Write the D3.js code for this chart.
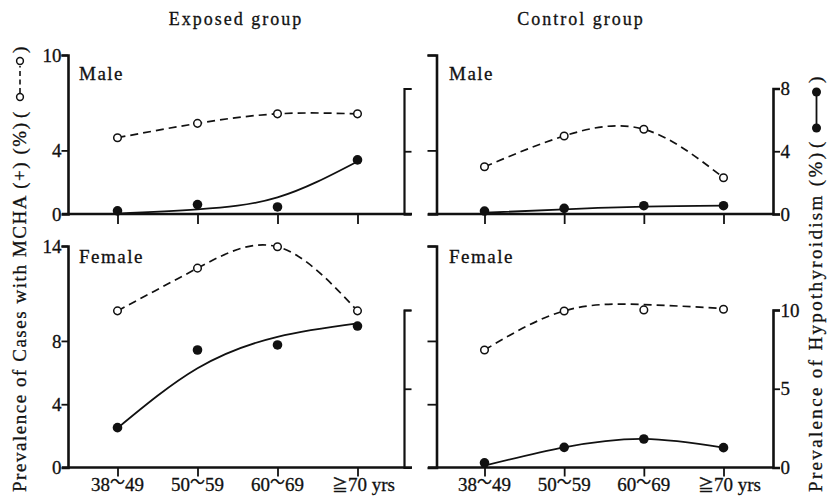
<!DOCTYPE html>
<html><head><meta charset="utf-8">
<script src="https://cdn.jsdelivr.net/npm/d3@7"></script>
<style>
body{margin:0;background:#fff}
text{font-family:"Liberation Serif","Tinos","Times New Roman","DejaVu Serif",serif;fill:#111;stroke:#111;stroke-width:0.3px}
.cjk{font-family:"Noto Sans CJK JP","Noto Sans CJK SC",sans-serif}
</style></head>
<body><svg id="c" width="827" height="497"></svg>
<script>
// ---------------- data ----------------
const ageGroups = ["38～49", "50～59", "60～69", "≧70 yrs"];
const groups = ["Exposed group", "Control group"];
const sexes = ["Male", "Female"];

const maleMchaTicks = [0, 4, 10];
const femaleMchaTicks = [0, 4, 8, 14];
const maleHypoTicks = [0, 4, 8];
const femaleHypoTicks = [0, 5, 10];

// Exposed group, male
const expMaleMcha = [4.8, 5.7, 6.3, 6.3];
const expMaleMchaFit = [4.8, 5.7, 6.3, 6.3];
const expMaleHypo = [0.2, 0.6, 0.45, 3.45];
const expMaleHypoFit = [0.03, 0.3, 1.06, 3.35];
// Control group, male
const ctlMaleMcha = [2.97, 4.91, 5.33, 2.28];
const ctlMaleMchaFit = [2.97, 4.91, 5.33, 2.28];
const ctlMaleHypo = [0.19, 0.36, 0.53, 0.53];
const ctlMaleHypoFit = [0.08, 0.3, 0.47, 0.53];
// Exposed group, female
const expFemMcha = [9.9, 12.6, 13.95, 9.9];
const expFemMchaFit = [9.9, 12.6, 13.95, 9.9];
const expFemHypo = [2.53, 7.46, 7.78, 8.98];
const expFemHypoFit = [2.5, 6.3, 8.3, 9.15];
// Control group, female
const ctlFemMcha = [7.43, 9.89, 9.96, 10.0];
const ctlFemMchaFit = [7.43, 9.9, 10.3, 10.05];
const ctlFemHypo = [0.3, 1.28, 1.81, 1.26];
const ctlFemHypoFit = [0.12, 1.28, 1.82, 1.26];

// ---------------- drawing ----------------
const ink = "#111";
const svg = d3.select("#c");
const FS = 19;
const SERIF = '"Liberation Serif","Tinos","Times New Roman","DejaVu Serif",serif';

function styleAxis(sel, domW, tickW) {
  sel.attr("font-family", null).attr("font-size", null);
  sel.select(".domain").attr("stroke", ink).attr("stroke-width", domW);
  sel.selectAll(".tick line").attr("stroke", ink).attr("stroke-width", tickW);
  sel.selectAll(".tick text").attr("fill", ink).style("font-size", FS + "px")
     .style("font-family", SERIF);
}

function drawPanel(p) {
  const x = d3.scalePoint().domain(ageGroups).range(p.xr);
  const yM = d3.scaleLinear().domain([0, p.mMax]).range([p.y0, p.yMTop]);
  const yH = d3.scaleLinear().domain([0, p.hMax]).range([p.y0, p.yHTop]);
  const g = svg.append("g");

  // x-axis baseline
  g.append("line").attr("x1", p.lineX[0]).attr("x2", p.lineX[1])
    .attr("y1", p.y0).attr("y2", p.y0).attr("stroke", ink).attr("stroke-width", 2.6);
  // x ticks
  const xa = g.append("g").attr("transform", `translate(0,${p.y0})`)
    .call(d3.axisBottom(x).tickSize(p.xTick).tickFormat(""));
  xa.select(".domain").remove();
  xa.selectAll(".tick line").attr("stroke", ink).attr("stroke-width", 1.8);

  if (p.showX) {
    ageGroups.forEach((a, i) => {
      const cx = x(a);
      const t = g.append("text").attr("y", p.y0 + 23).style("font-size", FS + "px");
      if (a.indexOf("～") >= 0) {
        const parts = a.split("～");
        t.attr("x", cx).attr("text-anchor", "middle");
        t.append("tspan").text(parts[0]);
        t.append("tspan").attr("class", "cjk").attr("dy", -4).style("font-size", "15px").text("～");
        t.append("tspan").attr("dy", 4).text(parts[1]);
      } else {
        t.attr("x", cx).attr("text-anchor", "start");
        t.append("tspan").attr("class", "cjk").style("font-size", "16px").text("≧");
        t.append("tspan").text("70");
        t.append("tspan").text(" yrs");
        const n = t.node();
        const w = n.getSubStringLength(0, 1) + n.getSubStringLength(1, 2) / 2;
        t.attr("x", cx - w);
      }
    });
  }

  // left (MCHA) axis
  const la = g.append("g").attr("transform", `translate(${p.axisL - 0.5},0)`)
    .call(d3.axisLeft(yM).tickValues(p.mTicks).tickSizeOuter(0)
      .tickSize(p.lTick).tickPadding(0).tickFormat(p.showL ? d3.format("d") : ""));
  styleAxis(la, 2.6, 1.8);
  la.selectAll(".tick").filter(d => d === 0).select("line").remove();

  // right (hypothyroidism) axis
  const ra = g.append("g").attr("transform", `translate(${p.axisR - 0.5},0)`)
    .call(d3.axisRight(yH).tickValues(p.hTicks).tickSizeOuter(0)
      .tickSize(p.rTick).tickPadding(0.5).tickFormat(p.showR ? d3.format("d") : ""));
  styleAxis(ra, p.showR ? 2.6 : 2.2, 1.8);

  // panel label
  g.append("text").attr("x", p.labX).attr("y", p.labY).style("font-size", FS + "px")
    .style("letter-spacing", "1.5px").text(p.sex);

  // curves
  const lineM = d3.line().x((d, i) => x(ageGroups[i])).y(d => yM(d)).curve(d3.curveNatural);
  const lineH = d3.line().x((d, i) => x(ageGroups[i])).y(d => yH(d)).curve(d3.curveNatural);
  g.append("path").attr("d", lineM(p.mFit)).attr("fill", "none").attr("stroke", ink)
    .attr("stroke-width", 1.7).attr("stroke-dasharray", "8,5");
  g.append("path").attr("d", lineH(p.hFit)).attr("fill", "none").attr("stroke", ink)
    .attr("stroke-width", 1.8);

  // markers
  g.selectAll(".om").data(p.m).join("circle")
    .attr("cx", (d, i) => x(ageGroups[i])).attr("cy", d => yM(d)).attr("r", 3.8)
    .attr("fill", "#fff").attr("stroke", ink).attr("stroke-width", 1.5);
  g.selectAll(".fm").data(p.h).join("circle")
    .attr("cx", (d, i) => x(ageGroups[i])).attr("cy", d => yH(d)).attr("r", 4.8)
    .attr("fill", ink);
}

const rowMale = { y0: 214, yMTop: 55, yHTop: 88.5, mMax: 10, hMax: 8, mTicks: maleMchaTicks, hTicks: maleHypoTicks, xTick: 10, showX: false, sex: sexes[0], labY: 80 };
const rowFem = { y0: 467.5, yMTop: 246, yHTop: 310, mMax: 14, hMax: 10, mTicks: femaleMchaTicks, hTicks: femaleHypoTicks, xTick: 9, showX: true, sex: sexes[1], labY: 263 };
const colExp = { xr: [117.5, 357.5], lineX: [62, 412], axisL: 68.5, axisR: 404.5, lTick: 6.5, rTick: 7.5, showL: true, showR: false, labX: 79 };
const colCtl = { xr: [484.5, 723.5], lineX: [428, 773.5], axisL: 437, axisR: 773.5, lTick: 9, rTick: 7, showL: false, showR: true, labX: 449 };

drawPanel(Object.assign({}, rowMale, colExp, { m: expMaleMcha, mFit: expMaleMchaFit, h: expMaleHypo, hFit: expMaleHypoFit }));
drawPanel(Object.assign({}, rowMale, colCtl, { m: ctlMaleMcha, mFit: ctlMaleMchaFit, h: ctlMaleHypo, hFit: ctlMaleHypoFit }));
drawPanel(Object.assign({}, rowFem, colExp, { m: expFemMcha, mFit: expFemMchaFit, h: expFemHypo, hFit: expFemHypoFit }));
drawPanel(Object.assign({}, rowFem, colCtl, { m: ctlFemMcha, mFit: ctlFemMchaFit, h: ctlFemHypo, hFit: ctlFemHypoFit }));

// group titles
svg.append("text").attr("x", 236).attr("y", 25).attr("text-anchor", "middle")
  .style("font-size", "18px").style("letter-spacing", "2px").text(groups[0]);
svg.append("text").attr("x", 581).attr("y", 25).attr("text-anchor", "middle")
  .style("font-size", "18px").style("letter-spacing", "2px").text(groups[1]);

// rotated axis titles with legend symbols
function vLabel(bx, by, main, len, filled) {
  const g = svg.append("g").attr("transform", `translate(${bx},${by}) rotate(-90)`);
  g.append("text").attr("x", 0).attr("y", 0).style("font-size", FS + "px")
    .attr("textLength", len).attr("lengthAdjust", "spacing").text(main);
  g.append("text").attr("x", len + 5).attr("y", 0).style("font-size", FS + "px").text("(");
  g.append("text").attr("x", len + 70).attr("y", 0).style("font-size", FS + "px").text(")");
  const cy = -5.5;
  if (filled) {
    g.append("line").attr("x1", len + 25).attr("x2", len + 61).attr("y1", cy).attr("y2", cy)
      .attr("stroke", ink).attr("stroke-width", 1.8);
    [len + 25, len + 61].forEach(c => g.append("circle").attr("cx", c).attr("cy", cy).attr("r", 4.5).attr("fill", ink));
  } else {
    g.append("line").attr("x1", len + 30).attr("x2", len + 57).attr("y1", cy).attr("y2", cy)
      .attr("stroke", ink).attr("stroke-width", 1.6).attr("stroke-dasharray", "5,3.5");
    [len + 26, len + 62].forEach(c => g.append("circle").attr("cx", c).attr("cy", cy).attr("r", 3.4)
      .attr("fill", "#fff").attr("stroke", ink).attr("stroke-width", 1.5));
  }
}
vLabel(25.5, 492, "Prevalence of Cases with MCHA (+) (%)", 369, false);
vLabel(822, 492, "Prevalence of Hypothyroidism (%)", 339, true);
</script></body></html>
